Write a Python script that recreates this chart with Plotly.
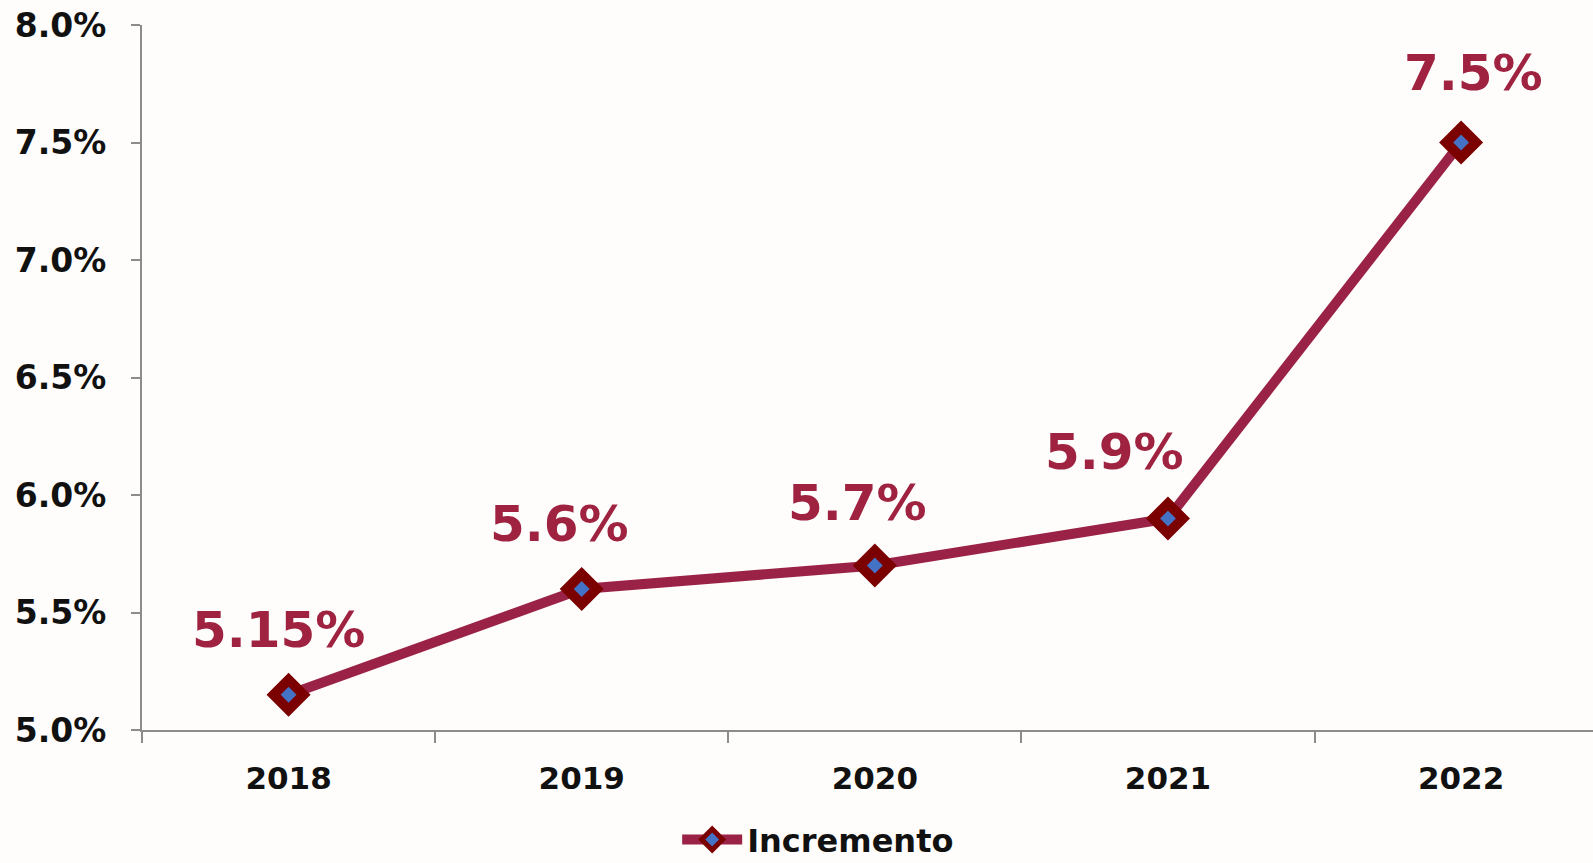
import plotly.graph_objects as go

years = ["2018", "2019", "2020", "2021", "2022"]
values = [5.15, 5.6, 5.7, 5.9, 7.5]
labels = ["5.15%", "5.6%", "5.7%", "5.9%", "7.5%"]
series_name = "Incremento"
y_ticks = [5.0, 5.5, 6.0, 6.5, 7.0, 7.5, 8.0]
y_ticktext = ["5.0%", "5.5%", "6.0%", "6.5%", "7.0%", "7.5%", "8.0%"]

# label offsets (pixels) relative to each point
label_dx = [-10, -22, -17, -53, 12]
label_dy = [65, 65, 63, 67, 70]

LINE = "#9B2247"
LABEL = "#9F2241"
FONT = "DejaVu Sans"

fig = go.Figure()
fig.add_trace(go.Scatter(
    x=years, y=values, name=series_name, mode="lines+markers",
    line=dict(color=LINE, width=10),
    marker=dict(symbol="diamond", size=23, color="#4472C4",
                line=dict(color="#7B0000", width=10)),
    showlegend=True,
))

for i, (y, t, dx, dy) in enumerate(zip(values, labels, label_dx, label_dy)):
    fig.add_annotation(x=i, y=y, xref="x", yref="y", text="<b>" + t + "</b>",
                       showarrow=False, xshift=dx, yshift=dy,
                       font=dict(family=FONT, size=50, color=LABEL))

fig.update_layout(
    width=1593, height=863,
    margin=dict(l=142, r=0, t=25, b=133),
    paper_bgcolor="#FEFDFB", plot_bgcolor="rgba(0,0,0,0)",
    font=dict(family=FONT, color="#111111"),
    showlegend=True,
    legend=dict(orientation="h", x=0.466, xanchor="center",
                yref="container", y=0.027, yanchor="middle",
                font=dict(family=FONT, size=32, color="#111111", weight="bold"),
                itemwidth=60, bgcolor="rgba(0,0,0,0)"),
    xaxis=dict(type="category", range=[-0.5, 4.45], tickson="boundaries",
               showline=True, linecolor="#8C8C8C", linewidth=2,
               ticks="outside", ticklen=11, tickcolor="#8C8C8C", tickwidth=2,
               showgrid=False, zeroline=False,
               tickfont=dict(family=FONT, size=31, color="#111111", weight="bold"),
               ticklabelstandoff=20),
    yaxis=dict(range=[5.0, 8.0], tickvals=y_ticks, ticktext=y_ticktext,
               showline=True, linecolor="#8C8C8C", linewidth=2,
               ticks="outside", ticklen=9, tickcolor="#8C8C8C", tickwidth=2,
               showgrid=False, zeroline=False,
               tickfont=dict(family=FONT, size=33, color="#111111", weight="bold"),
               ticklabelstandoff=18),
)

fig.write_html("out.html", config={"displayModeBar": False},
               post_script="document.body.style.margin='0';document.body.style.overflow='hidden';")
